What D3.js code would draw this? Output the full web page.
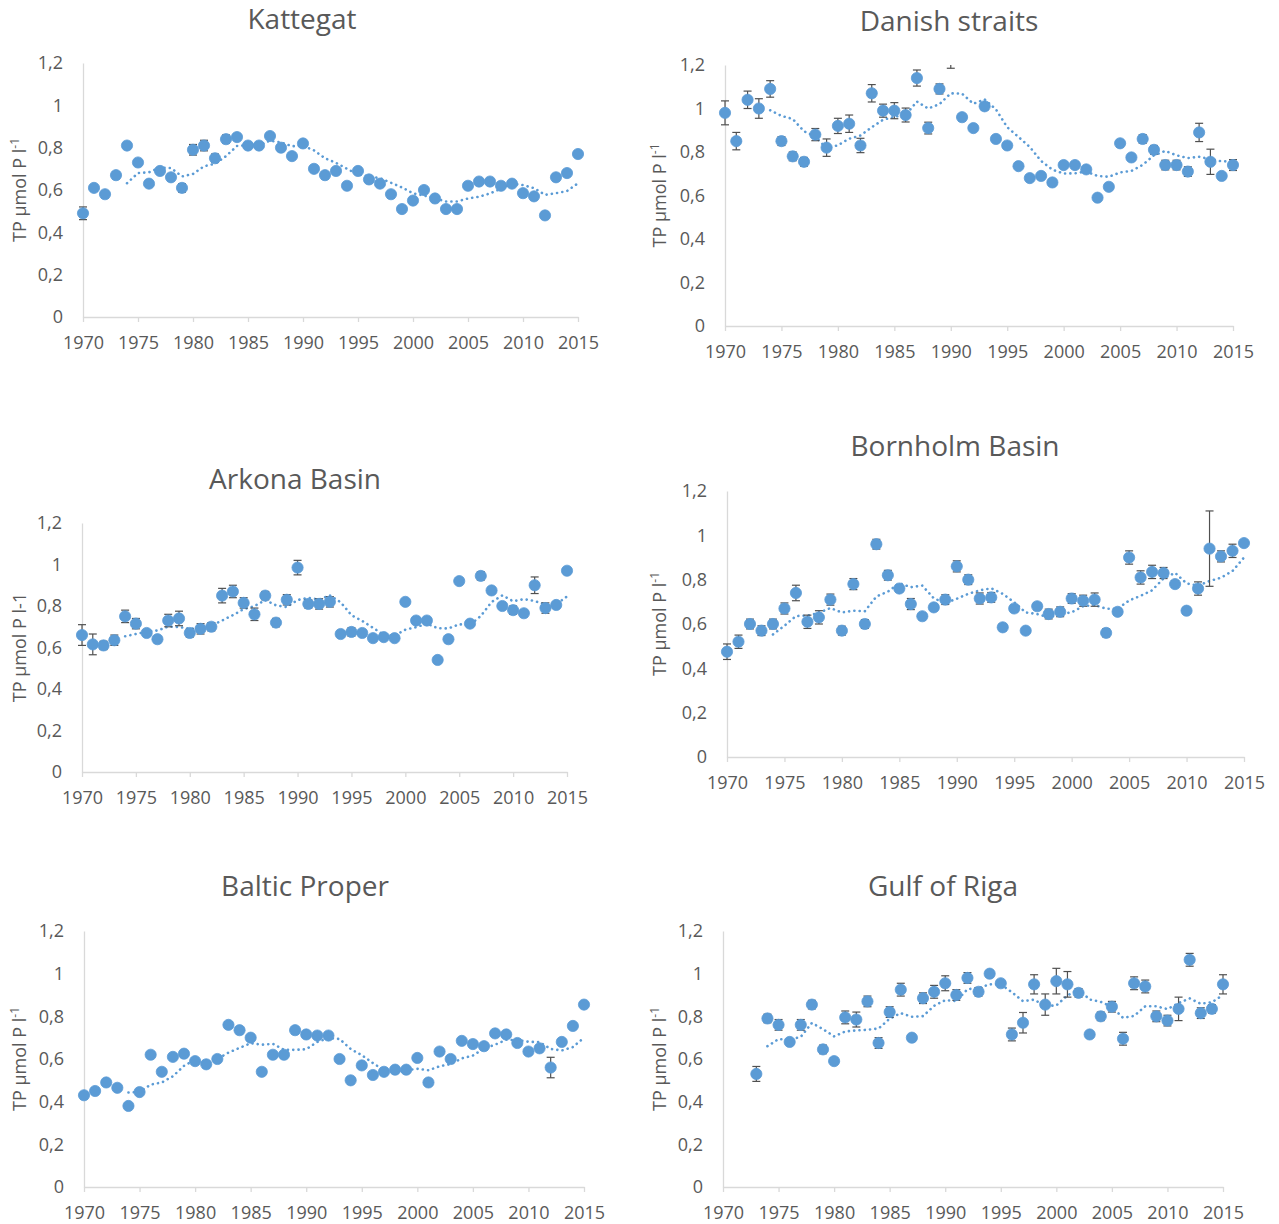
<!DOCTYPE html>
<html><head><meta charset="utf-8">
<script src="https://cdn.jsdelivr.net/npm/d3@7"></script>
<style>
body{margin:0;background:#fff}
svg{display:block}
text{font-family:"Open Sans",sans-serif;fill:#595959}
</style>
</head><body>
<svg id="c" width="1279" height="1224"></svg>
<script>
// ---------- data ----------
const years = [1970,1971,1972,1973,1974,1975,1976,1977,1978,1979,
  1980,1981,1982,1983,1984,1985,1986,1987,1988,1989,
  1990,1991,1992,1993,1994,1995,1996,1997,1998,1999,
  2000,2001,2002,2003,2004,2005,2006,2007,2008,2009,
  2010,2011,2012,2013,2014,2015];
const xTickValues = [1970,1975,1980,1985,1990,1995,2000,2005,2010,2015];
const yTickValues = [0,0.2,0.4,0.6,0.8,1,1.2];
const yTickLabels = ["0","0,2","0,4","0,6","0,8","1","1,2"];

const kattegatTP = [0.49,0.61,0.58,0.67,0.81,0.73,0.63,0.69,0.66,0.61,
  0.79,0.81,0.75,0.84,0.85,0.81,0.81,0.855,0.80,0.76,
  0.82,0.70,0.67,0.69,0.62,0.69,0.65,0.63,0.58,0.51,
  0.55,0.60,0.56,0.51,0.51,0.62,0.64,0.64,0.62,0.63,
  0.585,0.57,0.48,0.66,0.68,0.77];
const kattegatErr = [0.03,0.015,0.01,0.015,0.01,0.01,0.01,0.01,0.015,0.02,
  0.025,0.025,0.02,0.02,0.015,0.01,0.01,0.01,0.01,0.01,
  0.01,0.01,0.01,0.01,0.01,0.01,0.01,0.01,0.01,0.01,
  0.01,0.01,0.01,0.01,0.01,0.01,0.01,0.01,0.01,0.01,
  0.01,0.01,0.015,0.01,0.01,0.01];

const danishTP = [0.98,0.85,1.04,1.00,1.09,0.85,0.78,0.755,0.88,0.82,
  0.92,0.93,0.83,1.07,0.99,0.99,0.97,1.14,0.91,1.09,
  1.24,0.96,0.91,1.01,0.86,0.83,0.735,0.68,0.69,0.66,
  0.74,0.74,0.72,0.59,0.64,0.84,0.775,0.86,0.81,0.74,
  0.74,0.71,0.89,0.755,0.69,0.74];
const danishErr = [0.055,0.04,0.04,0.045,0.038,0.02,0.02,0.02,0.028,0.04,
  0.035,0.04,0.033,0.04,0.03,0.037,0.032,0.037,0.027,0.023,
  0.055,0.01,0.01,0.015,0.01,0.01,0.01,0.01,0.01,0.01,
  0.01,0.01,0.01,0.01,0.01,0.01,0.01,0.02,0.02,0.022,
  0.022,0.022,0.042,0.058,0.01,0.025];

const arkonaTP = [0.66,0.615,0.61,0.635,0.75,0.715,0.67,0.64,0.73,0.74,
  0.67,0.69,0.70,0.85,0.87,0.815,0.76,0.85,0.72,0.83,
  0.985,0.81,0.81,0.82,0.665,0.675,0.67,0.645,0.65,0.645,
  0.82,0.73,0.73,0.54,0.64,0.92,0.715,0.945,0.875,0.80,
  0.78,0.765,0.90,0.79,0.805,0.97];
const arkonaErr = [0.05,0.05,0.02,0.025,0.03,0.025,0.01,0.01,0.03,0.035,
  0.02,0.025,0.02,0.035,0.03,0.025,0.03,0.02,0.02,0.025,
  0.035,0.02,0.025,0.025,0.01,0.02,0.01,0.01,0.01,0.01,
  0.01,0.01,0.01,0.01,0.01,0.01,0.01,0.02,0.01,0.01,
  0.02,0.01,0.04,0.025,0.01,0.01];

const bornholmTP = [0.475,0.52,0.60,0.57,0.60,0.67,0.74,0.61,0.63,0.71,
  0.57,0.78,0.60,0.96,0.82,0.76,0.69,0.635,0.675,0.71,
  0.86,0.80,0.715,0.72,0.585,0.67,0.57,0.68,0.645,0.655,
  0.715,0.705,0.71,0.56,0.655,0.90,0.81,0.835,0.83,0.78,
  0.66,0.76,0.94,0.905,0.93,0.965];
const bornholmErr = [0.035,0.03,0.022,0.022,0.022,0.025,0.035,0.03,0.03,0.025,
  0.02,0.025,0.02,0.022,0.022,0.015,0.025,0.01,0.015,0.022,
  0.025,0.022,0.025,0.022,0.015,0.015,0.01,0.015,0.022,0.022,
  0.022,0.025,0.03,0.018,0.015,0.03,0.03,0.03,0.025,0.015,
  0.015,0.03,0.17,0.025,0.03,0.01];

const balticTP = [0.43,0.45,0.49,0.465,0.38,0.445,0.62,0.54,0.61,0.625,
  0.59,0.575,0.60,0.76,0.735,0.70,0.54,0.62,0.62,0.735,
  0.715,0.71,0.71,0.60,0.50,0.57,0.525,0.54,0.55,0.55,
  0.605,0.49,0.635,0.60,0.685,0.67,0.66,0.72,0.715,0.675,
  0.635,0.65,0.56,0.68,0.755,0.855];
const balticErr = [0.01,0.01,0.01,0.01,0.01,0.01,0.01,0.01,0.01,0.01,
  0.01,0.01,0.01,0.015,0.01,0.01,0.01,0.01,0.01,0.01,
  0.01,0.01,0.01,0.01,0.01,0.01,0.01,0.01,0.01,0.01,
  0.01,0.01,0.01,0.01,0.01,0.01,0.01,0.01,0.01,0.01,
  0.01,0.01,0.048,0.01,0.01,0.01];

const rigaTP = [null,null,null,0.53,0.79,0.76,0.68,0.76,0.855,0.645,
  0.59,0.795,0.785,0.87,0.675,0.82,0.925,0.70,0.885,0.915,
  0.955,0.90,0.98,0.915,1.00,0.955,0.715,0.77,0.95,0.855,
  0.965,0.95,0.91,0.715,0.80,0.845,0.695,0.955,0.94,0.80,
  0.78,0.835,1.065,0.815,0.835,0.95];
const rigaErr = [null,null,null,0.035,0.02,0.025,0.01,0.025,0.02,0.02,
  0.015,0.03,0.035,0.025,0.025,0.025,0.03,0.015,0.025,0.03,
  0.035,0.025,0.025,0.02,0.015,0.01,0.03,0.048,0.045,0.05,
  0.06,0.06,0.02,0.01,0.02,0.025,0.03,0.03,0.03,0.025,
  0.025,0.055,0.03,0.025,0.02,0.045];

const trendPeriod = 5; // Excel moving-average trendline period

// ---------- layout ----------
const panels = [
  {title:"Kattegat", values:kattegatTP, errors:kattegatErr, sup:true,
   box:{l:83,t:63,r:578,b:317}, tx:302, ty:29, ax:20},
  {title:"Danish straits", values:danishTP, errors:danishErr, sup:true,
   box:{l:725,t:65,r:1233,b:326}, tx:949, ty:31, ax:660},
  {title:"Arkona Basin", values:arkonaTP, errors:arkonaErr, sup:false,
   box:{l:82,t:523,r:567,b:772}, tx:295, ty:489, ax:20},
  {title:"Bornholm Basin", values:bornholmTP, errors:bornholmErr, sup:true,
   box:{l:727,t:491,r:1244,b:757}, tx:955, ty:456, ax:660},
  {title:"Baltic Proper", values:balticTP, errors:balticErr, sup:true,
   box:{l:84,t:931,r:584,b:1187}, tx:305, ty:896, ax:20},
  {title:"Gulf of Riga", values:rigaTP, errors:rigaErr, sup:true,
   box:{l:723,t:931,r:1223,b:1187}, tx:943, ty:896, ax:660}
];

const svg = d3.select("#c");
const blue = "#5B9BD5";
const axisGray = "#D9D9D9";

panels.forEach((p, pi) => {
  const {l,t,r,b} = p.box;
  const x = d3.scaleLinear().domain([1970,2015]).range([l,r]);
  const y = d3.scaleLinear().domain([0,1.2]).range([b,t]);
  const g = svg.append("g");

  // title
  g.append("text").attr("x",p.tx).attr("y",p.ty).attr("text-anchor","middle")
    .style("font-size","28px").text(p.title);

  // y axis title
  const yt = g.append("text")
    .attr("transform",`translate(${p.ax},${(t+b)/2}) rotate(-90)`)
    .attr("text-anchor","middle").attr("dy","0.35em")
    .style("font-size","18px");
  if (p.sup) {
    yt.append("tspan").text("TP µmol P l");
    yt.append("tspan").text("-1").style("font-size","12px").attr("dy","-7");
  } else {
    yt.text("TP µmol P l-1");
  }

  // y axis
  const yAxis = g.append("g").attr("transform",`translate(${l},0)`)
    .call(d3.axisLeft(y).tickValues(yTickValues).tickSize(0).tickPadding(20)
      .tickFormat((d,i)=>yTickLabels[i]));
  yAxis.select(".domain").attr("stroke",axisGray).attr("stroke-width",1.3);
  yAxis.selectAll("text").style("font-size","18px").style("font-family","'Open Sans',sans-serif").attr("fill","#595959");

  // x axis
  const xAxis = g.append("g").attr("transform",`translate(0,${b})`)
    .call(d3.axisBottom(x).tickValues(xTickValues).tickSize(5).tickSizeOuter(0)
      .tickPadding(14).tickFormat(d3.format("d")));
  xAxis.select(".domain").attr("stroke",axisGray).attr("stroke-width",1.3);
  xAxis.selectAll(".tick line").attr("stroke",axisGray).attr("stroke-width",1.3);
  xAxis.selectAll("text").style("font-size","18px").style("font-family","'Open Sans',sans-serif").attr("fill","#595959");

  // clip at top of plot area
  const cid = "clip"+pi;
  svg.append("clipPath").attr("id",cid).append("rect")
    .attr("x",l-20).attr("y",t).attr("width",r-l+40).attr("height",b-t+20);
  const plot = g.append("g").attr("clip-path",`url(#${cid})`);

  const pts = years.map((yr,i)=>({year:yr, v:p.values[i], e:p.errors[i]}))
    .filter(d=>d.v!=null);

  // moving-average trendline (as Excel draws it)
  const trend = years.map((yr,i)=>{
    if (i < trendPeriod-1) return {year:yr, v:null};
    const w = p.values.slice(i-trendPeriod+1, i+1).filter(v=>v!=null);
    return {year:yr, v: w.length ? d3.mean(w) : null};
  }).filter(d=>d.v!=null);

  plot.append("path").datum(trend)
    .attr("d", d3.line().x(d=>x(d.year)).y(d=>y(d.v)))
    .attr("fill","none").attr("stroke",blue).attr("stroke-width",2.6)
    .attr("stroke-linecap","round").attr("stroke-dasharray","0.1 5.2");

  // error bars
  const eb = plot.append("g").attr("stroke","#505050").attr("stroke-width",1.2);
  pts.forEach(d=>{
    const y1 = y(d.v-d.e), y2 = y(d.v+d.e), cx = x(d.year);
    eb.append("line").attr("x1",cx).attr("x2",cx).attr("y1",y1).attr("y2",y2);
    eb.append("line").attr("x1",cx-4).attr("x2",cx+4).attr("y1",y1).attr("y2",y1);
    eb.append("line").attr("x1",cx-4).attr("x2",cx+4).attr("y1",y2).attr("y2",y2);
  });

  // markers
  plot.append("g").selectAll("circle").data(pts).join("circle")
    .attr("cx",d=>x(d.year)).attr("cy",d=>y(d.v)).attr("r",5.6)
    .attr("fill",blue).attr("stroke",blue).attr("stroke-width",0.8);
});
</script>
</body></html>
